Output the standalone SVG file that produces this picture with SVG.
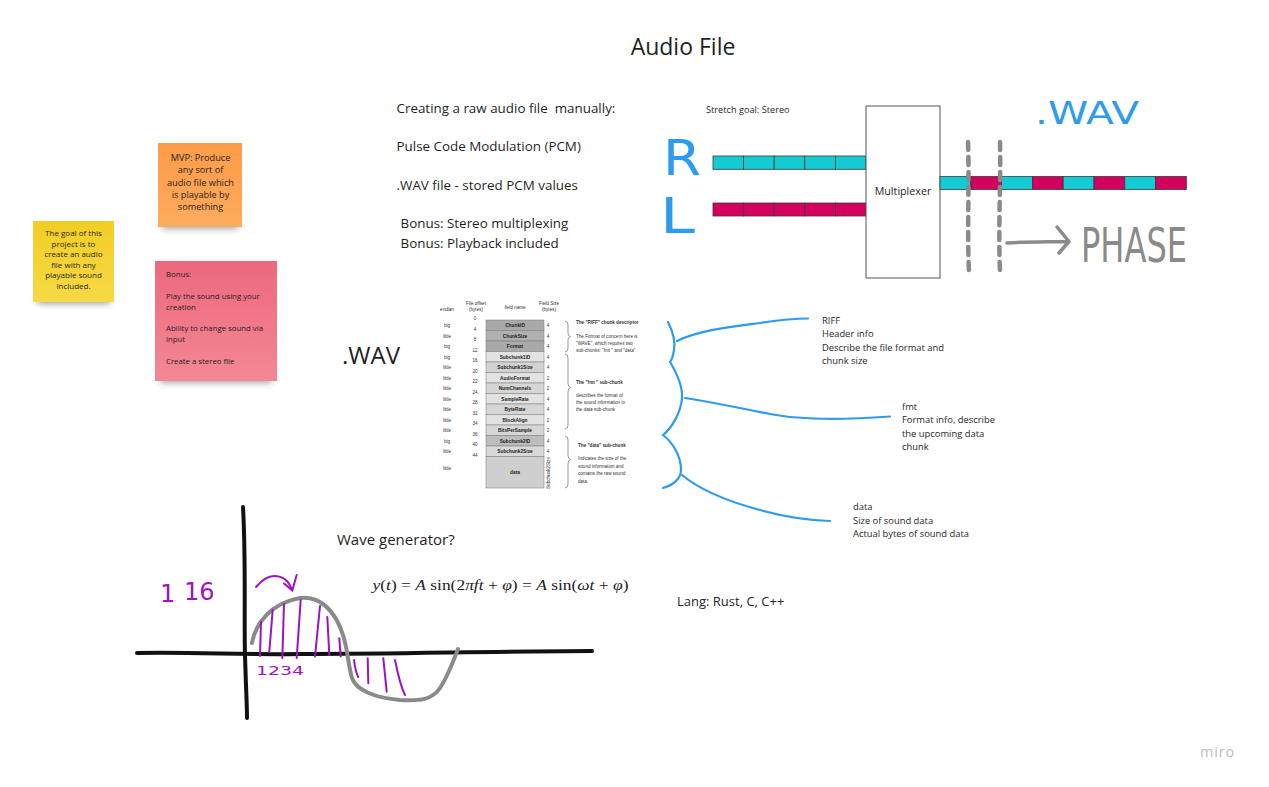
<svg xmlns="http://www.w3.org/2000/svg" width="1269" height="787" viewBox="0 0 1269 787">
<defs>
<style>
.os{font-family:"Open Sans","Liberation Sans",sans-serif;fill:#1f1f1f}
.tb{font-family:"Liberation Sans",Arial,sans-serif;font-size:4.6px;fill:#333}
.tbb{font-family:"Liberation Sans",Arial,sans-serif;font-size:4.8px;fill:#222;font-weight:bold;text-anchor:middle}
.bl{fill:none;stroke:#2d9bf0;stroke-width:2.2;stroke-linecap:round}
.gb{fill:none;stroke:#555;stroke-width:0.6}
.cell{stroke:#3a3a3a;stroke-width:0.8}
.teal{fill:#14cbd3}
.mag{fill:#d4005f}
.row{stroke:#777;stroke-width:0.5}
.pur{fill:none;stroke:#9b14c4;stroke-width:2;stroke-linecap:round}
.hand{font-family:"DejaVu Sans",sans-serif}
</style>
<linearGradient id="gy" x1="0" y1="0" x2="0" y2="1"><stop offset="0" stop-color="#f3cd25"/><stop offset="1" stop-color="#f6d946"/></linearGradient>
<linearGradient id="go" x1="0" y1="0" x2="0" y2="1"><stop offset="0" stop-color="#fd9c47"/><stop offset="1" stop-color="#ffab5f"/></linearGradient>
<linearGradient id="gp" x1="0" y1="0" x2="0" y2="1"><stop offset="0" stop-color="#ec687e"/><stop offset="1" stop-color="#f48894"/></linearGradient>
<filter id="sh" x="-20%" y="-50%" width="140%" height="200%"><feGaussianBlur stdDeviation="3"/></filter>
</defs>
<rect width="1269" height="787" fill="#ffffff"/>

<g id="title"><text class="os" x="683" y="55" font-size="23" text-anchor="middle">Audio File</text></g>

<g id="sticky-goal">
<rect x="37" y="292" width="73" height="12" fill="#000" opacity="0.35" filter="url(#sh)"/>
<rect x="33" y="221" width="81" height="81" fill="url(#gy)"/>
<text class="os" font-size="8" text-anchor="middle">
<tspan x="73.5" y="236">The goal of this</tspan><tspan x="73.5" y="246.6">project is to</tspan><tspan x="73.5" y="257.2">create an audio</tspan><tspan x="73.5" y="267.8">file with any</tspan><tspan x="73.5" y="278.4">playable sound</tspan><tspan x="73.5" y="289">included.</tspan>
</text>
</g>

<g id="sticky-mvp">
<rect x="162" y="217" width="76" height="12" fill="#000" opacity="0.35" filter="url(#sh)"/>
<rect x="158" y="143" width="84" height="84" fill="url(#go)"/>
<text class="os" font-size="9.2" text-anchor="middle">
<tspan x="200.5" y="160.8">MVP: Produce</tspan><tspan x="200.5" y="173.2">any sort of</tspan><tspan x="200.5" y="185.6">audio file which</tspan><tspan x="200.5" y="198">is playable by</tspan><tspan x="200.5" y="210.4">something</tspan>
</text>
</g>

<g id="sticky-bonus">
<rect x="160" y="371" width="112" height="12" fill="#000" opacity="0.35" filter="url(#sh)"/>
<rect x="155" y="261" width="122" height="120" fill="url(#gp)"/>
<text class="os" font-size="7.8">
<tspan x="166" y="277">Bonus:</tspan><tspan x="166" y="298.7">Play the sound using your</tspan><tspan x="166" y="309.7">creation</tspan><tspan x="166" y="331">Ability to change sound via</tspan><tspan x="166" y="342">input</tspan><tspan x="166" y="364.4">Create a stereo file</tspan>
</text>
</g>

<g id="intro-text">
<text class="os" font-size="13.4">
<tspan x="396.5" y="112.7">Creating a raw audio file&#160; manually:</tspan>
<tspan x="396.5" y="151.2">Pulse Code Modulation (PCM)</tspan>
<tspan x="396.5" y="189.7">.WAV file - stored PCM values</tspan>
<tspan x="400.5" y="228.2">Bonus: Stereo multiplexing</tspan>
<tspan x="400.5" y="247.7">Bonus: Playback included</tspan>
</text>
</g>

<g id="stereo">
<text class="os" x="706" y="113.2" font-size="9.2">Stretch goal: Stereo</text>
<text class="hand" x="663" y="175" font-size="50" fill="#2d9bf0" textLength="38" lengthAdjust="spacingAndGlyphs">R</text>
<text class="hand" x="660" y="233" font-size="50" fill="#2d9bf0" textLength="35" lengthAdjust="spacingAndGlyphs">L</text>
<g id="r-channel">
<rect class="cell teal" x="713" y="156" width="30.6" height="13.3"/><rect class="cell teal" x="743.6" y="156" width="30.6" height="13.3"/><rect class="cell teal" x="774.2" y="156" width="30.6" height="13.3"/><rect class="cell teal" x="804.8" y="156" width="30.6" height="13.3"/><rect class="cell teal" x="835.4" y="156" width="30.6" height="13.3"/>
</g>
<g id="l-channel">
<rect class="cell mag" x="713" y="203" width="30.6" height="13"/><rect class="cell mag" x="743.6" y="203" width="30.6" height="13"/><rect class="cell mag" x="774.2" y="203" width="30.6" height="13"/><rect class="cell mag" x="804.8" y="203" width="30.6" height="13"/><rect class="cell mag" x="835.4" y="203" width="30.6" height="13"/>
</g>
<g id="multiplexer">
<rect x="866" y="106" width="74" height="172" fill="#fff" stroke="#555" stroke-width="1"/>
<text class="os" x="903" y="194.7" font-size="10.7" text-anchor="middle">Multiplexer</text>
</g>
<g id="output">
<rect class="cell teal" x="940" y="176.5" width="30.8" height="13"/><rect class="cell mag" x="970.8" y="176.5" width="30.8" height="13"/><rect class="cell teal" x="1001.6" y="176.5" width="30.8" height="13"/><rect class="cell mag" x="1032.4" y="176.5" width="30.8" height="13"/><rect class="cell teal" x="1063.2" y="176.5" width="30.8" height="13"/><rect class="cell mag" x="1094" y="176.5" width="30.8" height="13"/><rect class="cell teal" x="1124.8" y="176.5" width="30.8" height="13"/><rect class="cell mag" x="1155.6" y="176.5" width="30.8" height="13"/>
</g>
<text class="hand" x="1035" y="124" font-size="32" fill="#2d9bf0" textLength="104" lengthAdjust="spacingAndGlyphs">.WAV</text>
<path d="M968,142 C969.5,180 967,232 969,272" fill="none" stroke="#8a8a8a" stroke-width="4.5" stroke-dasharray="8 7" stroke-linecap="round"/>
<path d="M1000,142 C1001,182 998,232 1000,271" fill="none" stroke="#8a8a8a" stroke-width="4.5" stroke-dasharray="8 7" stroke-linecap="round"/>
<path d="M1007,243 C1025,242 1045,242 1068,241.5 M1057,227 L1069,241.5 L1059,253" fill="none" stroke="#8a8a8a" stroke-width="3.5" stroke-linecap="round" stroke-linejoin="round"/>
<text class="hand" x="1081" y="262" font-size="48" fill="#8a8a8a" textLength="106" lengthAdjust="spacingAndGlyphs">PHASE</text>
</g>

<g id="wav-label"><text class="os" x="342" y="364" font-size="24">.WAV</text></g>

<g id="wav-table">
<text class="tb" x="447" y="311" text-anchor="middle">endian</text>
<text class="tb" x="476" y="305" text-anchor="middle">File offset</text>
<text class="tb" x="476" y="311" text-anchor="middle">(bytes)</text>
<text class="tb" x="515" y="309" text-anchor="middle">field name</text>
<text class="tb" x="549" y="305" text-anchor="middle">Field Size</text>
<text class="tb" x="549" y="311" text-anchor="middle">(bytes)</text>
<rect class="row" x="486" y="320" width="58" height="10.5" fill="#a9a9a9"/>
<rect class="row" x="486" y="330.5" width="58" height="10.5" fill="#b0b0b0"/>
<rect class="row" x="486" y="341" width="58" height="10.5" fill="#a9a9a9"/>
<rect class="row" x="486" y="351.5" width="58" height="10.5" fill="#e2e2e2"/>
<rect class="row" x="486" y="362" width="58" height="10.5" fill="#d2d2d2"/>
<rect class="row" x="486" y="372.5" width="58" height="10.5" fill="#e2e2e2"/>
<rect class="row" x="486" y="383" width="58" height="10.5" fill="#d6d6d6"/>
<rect class="row" x="486" y="393.5" width="58" height="10.5" fill="#e2e2e2"/>
<rect class="row" x="486" y="404" width="58" height="10.5" fill="#d6d6d6"/>
<rect class="row" x="486" y="414.5" width="58" height="10.5" fill="#e2e2e2"/>
<rect class="row" x="486" y="425" width="58" height="10.5" fill="#d6d6d6"/>
<rect class="row" x="486" y="435.5" width="58" height="10.5" fill="#bdbdbd"/>
<rect class="row" x="486" y="446" width="58" height="10.5" fill="#d8d8d8"/>
<rect class="row" x="486" y="456.5" width="58" height="31.5" fill="#cfcfcf"/>
<text class="tbb">
<tspan x="515" y="327">ChunkID</tspan><tspan x="515" y="337.5">ChunkSize</tspan><tspan x="515" y="348">Format</tspan><tspan x="515" y="358.5">Subchunk1ID</tspan><tspan x="515" y="369">Subchunk1Size</tspan><tspan x="515" y="379.5">AudioFormat</tspan><tspan x="515" y="390">NumChannels</tspan><tspan x="515" y="400.5">SampleRate</tspan><tspan x="515" y="411">ByteRate</tspan><tspan x="515" y="421.5">BlockAlign</tspan><tspan x="515" y="432">BitsPerSample</tspan><tspan x="515" y="442.5">Subchunk2ID</tspan><tspan x="515" y="453">Subchunk2Size</tspan><tspan x="515" y="474">data</tspan>
</text>
<text class="tb" text-anchor="middle">
<tspan x="447" y="327">big</tspan><tspan x="447" y="337.5">little</tspan><tspan x="447" y="348">big</tspan><tspan x="447" y="358.5">big</tspan><tspan x="447" y="369">little</tspan><tspan x="447" y="379.5">little</tspan><tspan x="447" y="390">little</tspan><tspan x="447" y="400.5">little</tspan><tspan x="447" y="411">little</tspan><tspan x="447" y="421.5">little</tspan><tspan x="447" y="432">little</tspan><tspan x="447" y="442.5">big</tspan><tspan x="447" y="453">little</tspan><tspan x="447" y="470">little</tspan>
</text>
<text class="tb" text-anchor="middle">
<tspan x="475" y="320">0</tspan><tspan x="475" y="330.5">4</tspan><tspan x="475" y="341">8</tspan><tspan x="475" y="351.5">12</tspan><tspan x="475" y="362">16</tspan><tspan x="475" y="372.5">20</tspan><tspan x="475" y="383">22</tspan><tspan x="475" y="393.5">24</tspan><tspan x="475" y="404">28</tspan><tspan x="475" y="414.5">32</tspan><tspan x="475" y="425">34</tspan><tspan x="475" y="435.5">36</tspan><tspan x="475" y="446">40</tspan><tspan x="475" y="456.5">44</tspan>
</text>
<text class="tb" text-anchor="middle">
<tspan x="548" y="327">4</tspan><tspan x="548" y="337.5">4</tspan><tspan x="548" y="348">4</tspan><tspan x="548" y="358.5">4</tspan><tspan x="548" y="369">4</tspan><tspan x="548" y="379.5">2</tspan><tspan x="548" y="390">2</tspan><tspan x="548" y="400.5">4</tspan><tspan x="548" y="411">4</tspan><tspan x="548" y="421.5">2</tspan><tspan x="548" y="432">2</tspan><tspan x="548" y="442.5">4</tspan><tspan x="548" y="453">4</tspan>
</text>
<text class="tb" x="0" y="0" text-anchor="middle" transform="translate(549.5,473) rotate(-90)">Subchunk2Size</text>
<path class="gb" d="M565,321 q3,0 3,4 v8 q0,3 2.5,3.5 q-2.5,0.5 -2.5,3.5 v8 q0,4 -3,4"/>
<path class="gb" d="M565,354 q3,0 3,4 v25 q0,4 2.5,4.5 q-2.5,0.5 -2.5,4.5 v33 q0,4 -3,4"/>
<path class="gb" d="M565,436 q3,0 3,4 v15 q0,4 2.5,4.5 q-2.5,0.5 -2.5,4.5 v20 q0,4 -3,4"/>
<text class="tb" font-weight="bold" font-size="4.9">
<tspan x="576" y="323.5">The "RIFF" chunk descriptor</tspan>
<tspan x="576" y="384">The "fmt " sub-chunk</tspan>
<tspan x="578" y="447">The "data" sub-chunk</tspan>
</text>
<text class="tb">
<tspan x="576" y="337.5">The Format of concern here is</tspan><tspan x="576" y="344.5">"WAVE", which requires two</tspan><tspan x="576" y="351.5">sub-chunks: "fmt " and "data"</tspan>
<tspan x="576" y="397">describes the format of</tspan><tspan x="576" y="404">the sound information in</tspan><tspan x="576" y="411">the data sub-chunk</tspan>
<tspan x="578" y="460">Indicates the size of the</tspan><tspan x="578" y="467.5">sound information and</tspan><tspan x="578" y="475">contains the raw sound</tspan><tspan x="578" y="482.5">data.</tspan>
</text>
</g>

<g id="blue-braces">
<path class="bl" d="M668,322 C672,330 676,340 674,350 C673,356 672,360 670,362 C676,372 683,385 682,398 C681,412 672,428 663,435 C672,442 681,455 681,470 C681,478 674,485 663,488"/>
</g>

<g id="riff-note"><text class="os" font-size="9.4"><tspan x="822" y="323.5">RIFF</tspan><tspan x="822" y="337">Header info</tspan><tspan x="822" y="350.5">Describe the file format and</tspan><tspan x="822" y="364">chunk size</tspan></text></g>
<g id="fmt-note"><text class="os" font-size="9.4"><tspan x="902" y="410">fmt</tspan><tspan x="902" y="423.3">Format info, describe</tspan><tspan x="902" y="436.6">the upcoming data</tspan><tspan x="902" y="449.9">chunk</tspan></text></g>
<g id="data-note"><text class="os" font-size="9.4"><tspan x="853" y="510">data</tspan><tspan x="853" y="523.5">Size of sound data</tspan><tspan x="853" y="537">Actual bytes of sound data</tspan></text></g>

<g id="connectors">
<path class="bl" d="M677,341 C700,330 730,327 760,323 C780,320 795,318.5 808,318.5"/>
<path class="bl" d="M685,398 C710,402 740,408 770,414 C800,420 840,420 890,416.5"/>
<path class="bl" d="M682,475 C700,490 730,502 760,510 C785,517 805,520 830,521"/>
</g>

<g id="wave">
<text class="os" x="337" y="545.3" font-size="15">Wave generator?</text>
<text x="372.5" y="590" font-family="'Liberation Serif','DejaVu Serif',serif" font-size="15.5" fill="#222" textLength="256" lengthAdjust="spacingAndGlyphs"><tspan font-style="italic">y</tspan>(<tspan font-style="italic">t</tspan>) = <tspan font-style="italic">A</tspan> sin(2<tspan font-style="italic">πft</tspan> + <tspan font-style="italic">φ</tspan>) = <tspan font-style="italic">A</tspan> sin(<tspan font-style="italic">ωt</tspan> + <tspan font-style="italic">φ</tspan>)</text>
<path d="M137,653 C200,652 240,655 300,654 C400,654 480,651.5 592,651" fill="none" stroke="#111" stroke-width="4" stroke-linecap="round"/>
<path d="M243,507 C246,560 244,620 245,655 C246,690 247,705 247,718" fill="none" stroke="#111" stroke-width="4" stroke-linecap="round"/>
<path d="M252,643 C255,625 270,603 300,598 C320,596 335,610 343,635 C348,650 348,665 352,678 C356,690 375,698 400,700 C420,701 432,700 440,688 C448,676 453,662 458,649" fill="none" stroke="#8a8a8a" stroke-width="4" stroke-linecap="round"/>
<path class="pur" d="M261,622 L260,656 M272.7,610 L269.3,651.7 M284,604 L282.3,658 M300.7,600 L296.7,658 M320,606 L315,656.5 M327.3,617 L329.3,655 M339.3,638.3 L340.7,656.5 M354,660 C355,668 356,673 358.3,677 M367.7,658.3 L368.3,683.3 M383.3,658.3 L386.7,691.7 M395,660 C398,675 401,687 405,695"/>
<path class="pur" d="M256,587 C262,580 268,576 274,576 C283,576 289,581 292,590 M284,583.5 L292.3,590.5 L296.7,575"/>
<text class="hand" font-size="24" fill="#9b14c4"><tspan x="160" y="602">1</tspan><tspan x="184" y="600">16</tspan></text>
<text class="hand" x="256" y="675" font-size="12" fill="#9b14c4" textLength="48" lengthAdjust="spacingAndGlyphs">1234</text>
</g>

<g id="lang"><text class="os" x="677" y="606" font-size="13">Lang: Rust, C, C++</text></g>
<g id="logo"><text x="1200" y="757" font-family="'Open Sans','Liberation Sans',sans-serif" font-size="14.5" fill="#b9bdc6" letter-spacing="0.8">miro</text></g>
</svg>
